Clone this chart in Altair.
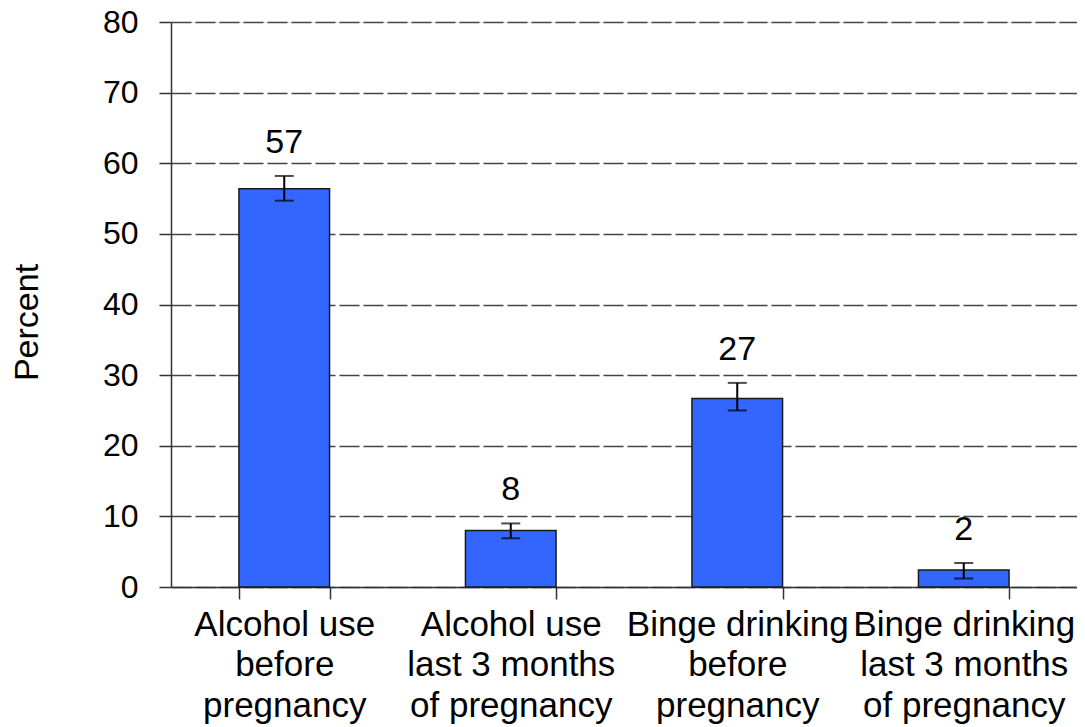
import altair as alt
import pandas as pd

categories = [
    "Alcohol use|before|pregnancy",
    "Alcohol use|last 3 months|of pregnancy",
    "Binge drinking|before|pregnancy",
    "Binge drinking|last 3 months|of pregnancy",
]
values = [56.4, 8.0, 26.7, 2.4]
lower = [54.7, 6.9, 25.0, 1.2]
upper = [58.2, 9.0, 28.9, 3.4]
value_labels = ["57", "8", "27", "2"]
y_ticks = [0, 10, 20, 30, 40, 50, 60, 70, 80]

df = pd.DataFrame({
    "cat": categories,
    "value": values,
    "lower": lower,
    "upper": upper,
    "label": value_labels,
})

FONT = "Liberation Sans"

x_enc = alt.X(
    "cat:N",
    sort=categories,
    scale=alt.Scale(paddingInner=0.6, paddingOuter=0.3),
    axis=alt.Axis(
        title=None,
        labelAngle=0,
        labelExpr="split(datum.label, '|')",
        labelFont=FONT,
        labelFontSize=35,
        labelColor="#000000",
        labelLineHeight=40.5,
        labelPadding=8,
        labelLimit=0,
        tickBand="extent",
        tickSize=12,
        tickColor="#333333",
        tickWidth=1.5,
        domainColor="#333333",
        domainWidth=1.5,
        grid=False,
        labelOverlap=False,
        labelBound=False,
    ),
)

y_scale = alt.Scale(domain=[0, 80], nice=False)

bars = alt.Chart(df).mark_bar(
    color="#3366FF", stroke="#1a1a1a", strokeWidth=1.5
).encode(
    x=x_enc,
    y=alt.Y(
        "value:Q",
        scale=y_scale,
        axis=alt.Axis(
            title="Percent",
            titleFont=FONT,
            titleFontSize=34,
            titleFontWeight="normal",
            titleColor="#000000",
            titleAngle=-90,
            titleAlign="center",
            titleBaseline="middle",
            titleX=-144,
            titleY=300,
            values=y_ticks,
            labelFont=FONT,
            labelFontSize=32,
            labelColor="#000000",
            labelPadding=21,
            tickSize=12,
            tickColor="#333333",
            tickWidth=1.5,
            domainColor="#333333",
            domainWidth=1.5,
            grid=True,
            gridColor="#444444",
            gridWidth=1.5,
            gridDash=[20, 4],
        ),
    ),
)

err = alt.Chart(df).mark_rule(color="#000000", strokeWidth=2).encode(
    x=alt.X("cat:N", sort=categories),
    y=alt.Y("lower:Q", scale=y_scale),
    y2="upper:Q",
)

cap_hi = alt.Chart(df).mark_tick(
    color="#000000", thickness=2, size=19, orient="horizontal"
).encode(
    x=alt.X("cat:N", sort=categories),
    y=alt.Y("upper:Q", scale=y_scale),
)

cap_lo = alt.Chart(df).mark_tick(
    color="#000000", thickness=2, size=19, orient="horizontal"
).encode(
    x=alt.X("cat:N", sort=categories),
    y=alt.Y("lower:Q", scale=y_scale),
)

text = alt.Chart(df).mark_text(
    font=FONT, fontSize=34, color="#000000", baseline="bottom", dy=-16
).encode(
    x=alt.X("cat:N", sort=categories),
    y=alt.Y("upper:Q", scale=y_scale),
    text="label:N",
)

chart = alt.layer(bars, err, cap_hi, cap_lo, text).properties(
    width=906,
    height=565,
    autosize=alt.AutoSizeParams(type="none"),
    padding={"left": 163, "top": 14, "right": 0, "bottom": 150},
).configure_view(stroke=None).configure(background="#ffffff")

chart.save("out.html", embed_options={"renderer": "svg", "actions": False})
